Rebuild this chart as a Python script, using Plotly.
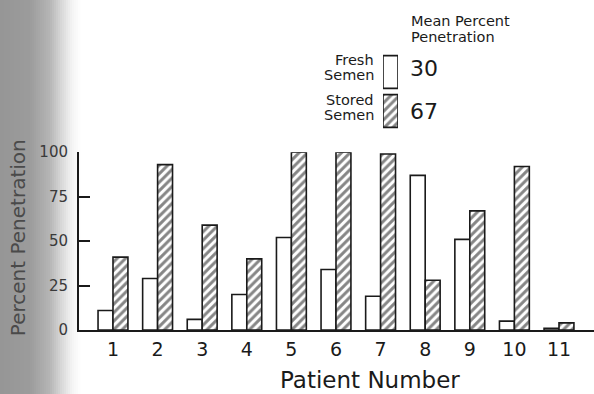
import plotly.graph_objects as go
import numpy as np

# ---- data ----
patients = [1, 2, 3, 4, 5, 6, 7, 8, 9, 10, 11]
patient_labels = ["1", "2", "3", "4", "5", "6", "7", "8", "9", "10", "11"]
fresh = [11, 29, 6, 20, 52, 34, 19, 87, 51, 5, 1]
stored = [41, 93, 59, 40, 100, 100, 99, 28, 67, 92, 4]
series_names = ["Fresh Semen", "Stored Semen"]
mean_values = [30, 67]
y_ticks = [0, 25, 50, 75, 100]

# ---- geometry ----
W, H = 594, 394
L, R, T, B = 79, 0, 5, 64
PW, PH = W - L - R, H - T - B


def fx(px):
    return (px - L) / PW


def fy(py):
    return (H - B - py) / PH


INK = "#1a1a1a"
FONT = "DejaVu Sans"
HATCH = dict(shape="/", fgcolor="#0d0d0d", bgcolor="white", size=6, solidity=0.5)

fig = go.Figure()

fig.add_trace(go.Bar(
    x=patients, y=fresh, name=series_names[0],
    marker=dict(color="white", line=dict(color=INK, width=1.6)),
    cliponaxis=False, showlegend=False,
))
fig.add_trace(go.Bar(
    x=patients, y=stored, name=series_names[1],
    marker=dict(color="white", line=dict(color=INK, width=1.6), pattern=HATCH),
    cliponaxis=False, showlegend=False,
))

# legend swatches drawn as tiny horizontal bars on their own axes
fig.add_trace(go.Bar(
    x=[1, 1], y=[1, 0], orientation="h", xaxis="x2", yaxis="y2",
    marker=dict(color="white", line=dict(color=INK, width=1.6),
                pattern=dict(shape=["", "/"], fgcolor="#0d0d0d", bgcolor="white",
                             size=6, solidity=0.5)),
    width=0.84, cliponaxis=False, showlegend=False, hoverinfo="skip",
))

# scan shading on the left edge
stops_x = [0, 30, 50, 62, 72, 80]
stops_v = [150, 156, 182, 218, 244, 255]
shapes = []
step = 2
for p in range(0, 80, step):
    v = int(np.interp(p + step / 2, stops_x, stops_v))
    shapes.append(dict(type="rect", xref="paper", yref="paper",
                       x0=fx(p), x1=fx(p + step + 0.5), y0=fy(H + 5), y1=fy(-5),
                       fillcolor=f"rgb({v},{v},{v})", line=dict(width=0),
                       layer="below"))


def ann(text, x, y, size, xanchor="center", color=INK, angle=0):
    return dict(text=text, x=fx(x), y=fy(y), xref="paper", yref="paper",
                xanchor=xanchor, yanchor="middle", showarrow=False,
                textangle=angle, font=dict(family=FONT, size=size, color=color))


annotations = [
    ann("Patient Number", 370, 381, 23),
    ann("Percent Penetration", 18, 237, 20, color="#4a4a4a", angle=-90),
    ann("Mean Percent", 409, 17, 14.5, "left"),
    ann("Penetration", 409, 33, 14.5, "left"),
    ann("Fresh", 376, 57, 14.5, "right"),
    ann("Semen", 376, 72, 14.5, "right"),
    ann("Stored", 376, 97, 14.5, "right"),
    ann("Semen", 376, 112, 14.5, "right"),
    ann(str(mean_values[0]), 408, 65, 22, "left"),
    ann(str(mean_values[1]), 408, 109, 22, "left"),
]

fig.update_layout(
    width=W, height=H,
    margin=dict(l=L, r=R, t=T, b=B, pad=0),
    paper_bgcolor="white", plot_bgcolor="rgba(0,0,0,0)",
    barmode="group", bargap=0.33, bargroupgap=0,
    shapes=shapes, annotations=annotations,
    xaxis=dict(range=[0.238, 11.785], tickvals=patients, ticktext=patient_labels,
               showline=True, linecolor=INK, linewidth=2, showgrid=False,
               zeroline=False, ticks="", ticklabelstandoff=1,
               tickfont=dict(family=FONT, size=19, color=INK)),
    yaxis=dict(range=[0, 100], domain=[0, fy(150)], tickvals=y_ticks,
               showline=True, linecolor=INK, linewidth=2, showgrid=False,
               zeroline=False, ticks="inside", ticklen=11, tickwidth=2,
               tickcolor=INK, ticklabelstandoff=6,
               tickfont=dict(family=FONT, size=15, color="#3a3a3a")),
    xaxis2=dict(domain=[fx(383), fx(398)], range=[0, 1], anchor="y2",
                visible=False, fixedrange=True),
    yaxis2=dict(domain=[fy(128), fy(49)], range=[-0.5, 1.5], anchor="x2",
                visible=False, fixedrange=True),
    showlegend=False,
)

fig.write_html("out.html",
               config={"displayModeBar": False},
               post_script="document.body.style.margin='0';document.body.style.overflow='hidden';")
